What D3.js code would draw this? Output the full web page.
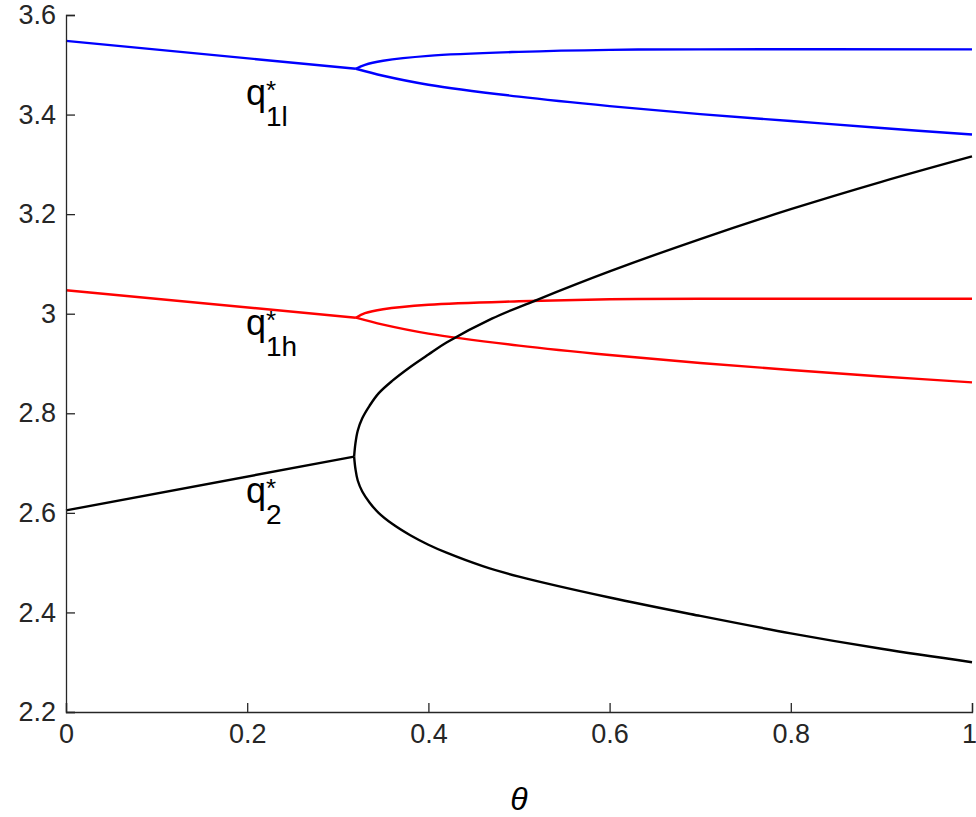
<!DOCTYPE html>
<html><head><meta charset="utf-8">
<script src="https://cdn.jsdelivr.net/npm/d3@7"></script>
<style>body{margin:0;background:#fff}text{font-family:Arial,"Liberation Sans",sans-serif}</style>
</head><body><svg id="c" width="976" height="817"></svg>
<script>
const xTicks=[0,0.2,0.4,0.6,0.8,1];
const yTicks=[2.2,2.4,2.6,2.8,3,3.2,3.4,3.6];
const yTickLabels=["2.2","2.4","2.6","2.8","3","3.2","3.4","3.6"];
const blueStem=[[0,3.548],[0.32,3.492]];
const blueUpper=[[0.32,3.492],[0.33,3.500],[0.35,3.508],[0.4,3.518],[0.5,3.526],[0.6,3.530],[0.7,3.531],[1,3.531]];
const blueLower=[[0.32,3.492],[0.35,3.478],[0.4,3.460],[0.5,3.436],[0.6,3.417],[0.7,3.401],[0.8,3.387],[0.9,3.373],[1,3.360]];
const redStem=[[0,3.047],[0.32,2.992]];
const redUpper=[[0.32,2.992],[0.33,3.001],[0.35,3.009],[0.4,3.018],[0.5,3.025],[0.6,3.029],[0.7,3.030],[1,3.030]];
const redLower=[[0.32,2.992],[0.35,2.978],[0.4,2.960],[0.5,2.936],[0.6,2.917],[0.7,2.901],[0.8,2.887],[0.9,2.874],[1,2.862]];
const blackStem=[[0,2.605],[0.318,2.713]];
const blackUpper=[[0.318,2.713],[0.3195,2.74],[0.322,2.765],[0.327,2.79],[0.335,2.815],[0.345,2.84],[0.36,2.865],[0.38,2.893],[0.4,2.918],[0.42,2.942],[0.47,2.99],[0.52,3.028],[0.6,3.085],[0.7,3.150],[0.8,3.210],[0.9,3.265],[1,3.316]];
const blackLower=[[0.318,2.713],[0.3195,2.688],[0.322,2.665],[0.327,2.643],[0.335,2.621],[0.345,2.600],[0.36,2.578],[0.38,2.555],[0.4,2.536],[0.42,2.52],[0.46,2.493],[0.5,2.472],[0.6,2.430],[0.7,2.393],[0.8,2.358],[0.9,2.327],[1,2.300]];

const svg=d3.select("#c");
const x=d3.scaleLinear().domain([0,1]).range([66,972]);
const y=d3.scaleLinear().domain([2.2,3.6]).range([712,15]);
const line=d3.line().x(d=>x(d[0])).y(d=>y(d[1])).curve(d3.curveCatmullRom.alpha(0.5));
const series=[[blueStem,"#0000ff"],[blueUpper,"#0000ff"],[blueLower,"#0000ff"],[redStem,"#ff0000"],[redUpper,"#ff0000"],[redLower,"#ff0000"],[blackStem,"#000"],[blackUpper,"#000"],[blackLower,"#000"]];
series.forEach(([d,c])=>svg.append("path").attr("d",line(d)).attr("fill","none").attr("stroke",c).attr("stroke-width",2.4));

const xa=svg.append("g").attr("transform","translate(0,712)").call(d3.axisBottom(x).tickValues(xTicks).tickSize(-9).tickPadding(12).tickFormat(d3.format("")));
const ya=svg.append("g").attr("transform","translate(66,0)").call(d3.axisLeft(y).tickValues(yTicks).tickSize(-9).tickPadding(10).tickFormat((d,i)=>yTickLabels[i]));
[xa,ya].forEach(a=>{a.selectAll("text").attr("font-size",27).attr("fill","#262626");a.selectAll("line,path").attr("stroke","#262626").attr("stroke-width",1.3);});
xa.selectAll(".tick").filter(d=>d===1).select("text").attr("dx",-3);
svg.append("text").attr("x",519).attr("y",810).attr("text-anchor","middle").attr("font-size",32).attr("font-style","italic").attr("font-family","Times New Roman,Liberation Serif,serif").text("θ");

function lab(px,py,sub){
  svg.append("text").attr("x",px).attr("y",py).attr("font-size",36).text("q");
  svg.append("text").attr("x",px+20).attr("y",py-6).attr("font-size",26).text("*");
  svg.append("text").attr("x",px+20).attr("y",py+21).attr("font-size",28).text(sub);
}
lab(246,105,"1l");lab(246,335,"1h");lab(246,503,"2");
</script></body></html>
